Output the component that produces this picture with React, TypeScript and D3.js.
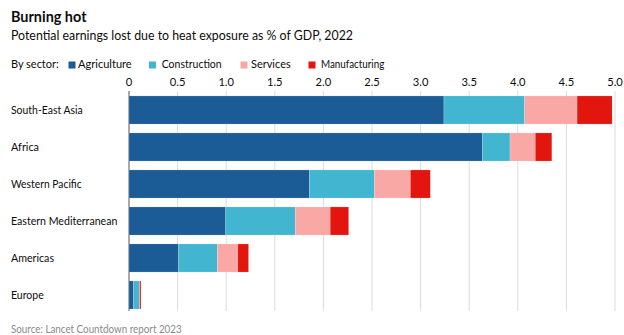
import React from "react";
import * as d3 from "d3";

const regions = ["South-East Asia", "Africa", "Western Pacific", "Eastern Mediterranean", "Americas", "Europe"];
const regionLabelWidths = [71.7, 28, 70.7, 106.3, 43, 32.7];
const sectors = ["Agriculture", "Construction", "Services", "Manufacturing"];
const agriculture = [3.24, 3.635, 1.855, 0.995, 0.51, 0.045];
const construction = [0.83, 0.285, 0.67, 0.715, 0.4, 0.06];
const services = [0.54, 0.26, 0.37, 0.36, 0.21, 0.005];
const manufacturing = [0.36, 0.17, 0.205, 0.19, 0.11, 0.013];
const xTicks = [0, 0.5, 1, 1.5, 2, 2.5, 3, 3.5, 4, 4.5, 5];
const colors = ["#1b5c96", "#42b6d0", "#f9a8a6", "#e2150f"];

const W = 624, H = 335;
const FONT = "Lato, 'Open Sans', sans-serif";

export default function App() {
  const rows = regions.map((r, i) => ({
    region: r,
    Agriculture: agriculture[i],
    Construction: construction[i],
    Services: services[i],
    Manufacturing: manufacturing[i],
  }));
  const stack = d3.stack<any>().keys(sectors)(rows);
  const x = d3.scaleLinear().domain([0, 5]).range([129, 615]);
  const y = d3.scaleBand().domain(regions).range([91.5, 313.5]).paddingInner(0.24).paddingOuter(0.12);

  const legendPos = [
    { sx: 68.5, tx: 78, w: 53.7 },
    { sx: 149, tx: 161.7, w: 60 },
    { sx: 240.5, tx: 251, w: 39.7 },
    { sx: 308.5, tx: 321, w: 63.3 },
  ];

  return (
    <svg width={W} height={H} style={{ position: "absolute", left: 0, top: 0, fontFamily: FONT }}>
      <rect width={W} height={H} fill="#fff" />
      <text x={11} y={21.7} fontSize={15.5} fontWeight={700} fill="#0c0c0c" textLength={75.5} lengthAdjust="spacingAndGlyphs">Burning hot</text>
      <text x={11} y={40} fontSize={14} fill="#0c0c0c" textLength={342} lengthAdjust="spacingAndGlyphs">Potential earnings lost due to heat exposure as % of GDP, 2022</text>
      <text x={11} y={68.3} fontSize={12} fill="#0c0c0c" textLength={47.7} lengthAdjust="spacingAndGlyphs">By sector:</text>
      {sectors.map((s, i) => (
        <g key={s}>
          <rect x={legendPos[i].sx} y={61.5} width={7} height={7} fill={colors[i]} />
          <text x={legendPos[i].tx} y={68.3} fontSize={12} fill="#0c0c0c" textLength={legendPos[i].w} lengthAdjust="spacingAndGlyphs">{s}</text>
        </g>
      ))}
      {xTicks.map((t) => (
        <g key={t}>
          <line x1={x(t)} x2={x(t)} y1={91} y2={311} stroke={t === 0 ? "#555" : "#dcdcdc"} strokeWidth={1} />
          <text x={x(t)} y={86} fontSize={11.2} textAnchor="middle" fill="#0c0c0c">{t === 0 ? "0" : d3.format(".1f")(t)}</text>
        </g>
      ))}
      {stack.map((layer, li) => (
        <g key={layer.key}>
          {layer.map((d: any, i: number) => (
            <rect
              key={i}
              x={x(d[0])}
              y={y(regions[i])!}
              width={Math.max(0, x(d[1]) - x(d[0]))}
              height={y.bandwidth()}
              fill={colors[li]}
              stroke="#fff"
              strokeOpacity={0.35}
              strokeWidth={0.5}
            />
          ))}
        </g>
      ))}
      {regions.map((r, i) => (
        <text key={r} x={11} y={y(r)! + y.bandwidth() / 2 + 4.3} fontSize={12} fill="#0c0c0c" textLength={regionLabelWidths[i]} lengthAdjust="spacingAndGlyphs">{r}</text>
      ))}
      <text x={11} y={332.5} fontSize={11} fill="#8a8a8a" textLength={170.7} lengthAdjust="spacingAndGlyphs">Source: Lancet Countdown report 2023</text>
    </svg>
  );
}
